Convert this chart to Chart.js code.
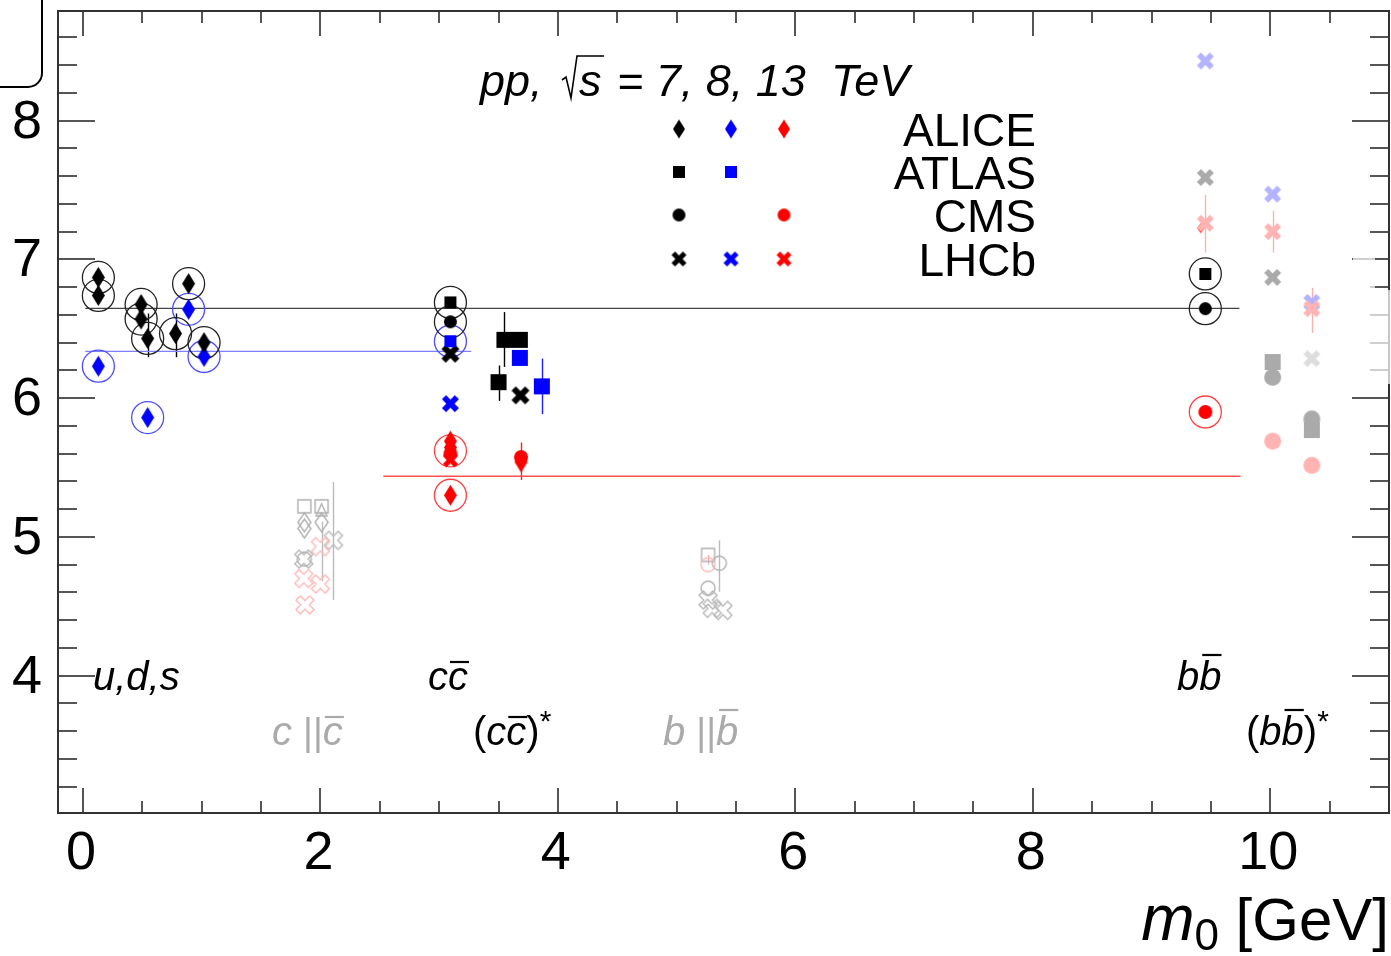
<!DOCTYPE html>
<html><head><meta charset="utf-8">
<script src="https://cdn.jsdelivr.net/npm/chart.js@4.4.0/dist/chart.umd.min.js"></script>
<style>html,body{margin:0;padding:0;background:#fff;overflow:hidden;}#wrap{width:1391px;height:956px;}canvas{display:block;}</style>
</head><body><div id="wrap"><canvas id="c" width="1391" height="956"></canvas></div>
<script>
// ---------------- data ----------------
const xTickLabels = [0, 2, 4, 6, 8, 10];
const yTickLabels = [4, 5, 6, 7, 8];
const xMinorTicks = [0.5,1,1.5,2.5,3,3.5,4.5,5,5.5,6.5,7,7.5,8.5,9,9.5,10.5];
const yMinorTicks = [3.2,3.4,3.6,3.8,4.2,4.4,4.6,4.8,5.2,5.4,5.6,5.8,6.2,6.4,6.6,6.8,7.2,7.4,7.6,7.8,8.2,8.4,8.6];

// ALICE (diamonds)
const alice7  = [[0.13,6.87],[0.13,6.74],[0.49,6.675],[0.49,6.57],[0.545,6.43],[0.78,6.465],[0.89,6.825],[1.02,6.40]];
const alice8  = [[0.13,6.23],[0.545,5.86],[0.89,6.64],[1.02,6.30]];
const alice13 = [[3.095,5.69],[3.095,5.645],[3.095,5.30],[3.69,5.54]];
const alice13hidden = [[9.415,7.225]];
// ATLAS (squares)
const atlas7      = [[3.095,6.69],[9.453,6.895]];
const atlas7big   = [[3.50,6.115],[3.55,6.42],[3.68,6.42]];
const atlas8      = [[3.095,6.41]];
const atlas8big   = [[3.68,6.29],[3.865,6.085]];
// CMS (circles)
const cms7  = [[3.095,6.55],[9.453,6.645]];
const cms13 = [[3.095,5.60],[3.69,5.575],[9.453,5.90]];
// LHCb (crosses)
const lhcb7  = [[3.095,6.32],[3.685,6.02]];
const lhcb8  = [[3.095,5.96]];
const lhcb13 = [[3.095,5.555]];
// faded b-bbar points
const fadeBlueX  = [[9.453,8.43],[10.02,7.47],[10.35,6.69]];
const fadeGrayX  = [[9.453,7.59],[10.02,6.87]];
const fadeLGrayX = [[10.35,6.285]];
const fadePinkX  = [[9.453,7.26],[10.02,7.20],[10.35,6.645]];
const fadeGraySq = [[10.02,6.26],[10.35,5.77]];
const fadeGrayCi = [[10.02,6.15],[10.35,5.85]];
const fadePinkCi = [[10.02,5.69],[10.35,5.515]];
// open (c||cbar, b||bbar) points
const openGraySq  = [[1.865,5.22],[2.01,5.22],[5.265,4.87]];
const openGrayTri = [[2.01,5.195]];
const openGrayDi  = [[1.865,5.105],[1.865,5.06],[2.01,5.105]];
const openGrayX   = [[2.11,4.975],[1.86,4.84],[5.265,4.545],[5.30,4.485],[5.39,4.47]];
const openPinkX   = [[2.0,4.93],[1.86,4.70],[2.0,4.66],[1.87,4.51]];
const openGrayCi  = [[1.865,4.84],[5.36,4.81],[5.265,4.63]];
const openPinkCi  = [[5.265,4.80]];
// highlighted (circled) points
const ringBlack = [[0.13,6.87],[0.13,6.74],[0.49,6.675],[0.49,6.57],[0.545,6.43],[0.78,6.465],[0.89,6.825],[1.02,6.40],[3.095,6.69],[3.095,6.55],[9.453,6.895],[9.453,6.645]];
const ringBlue  = [[0.13,6.23],[0.545,5.86],[0.89,6.64],[1.02,6.30],[3.095,6.41]];
const ringRed   = [[3.095,5.62],[3.095,5.30],[9.453,5.90]];
// error bars [x, low, high]
const errBlack = [[0.545,6.295,6.61],[0.78,6.295,6.61],[3.55,6.225,6.62],[3.50,5.98,6.235]];
const errBlue  = [[3.865,5.885,6.285]];
const errRed   = [[3.69,5.41,5.68]];
const errGray  = [[2.11,4.545,5.395],[2.01,4.68,5.11],[5.36,4.605,4.975]];
const errPink  = [[9.453,7.05,7.465],[10.02,7.05,7.35],[10.35,6.47,6.795],[5.265,4.80,4.87]];
// average lines [x0, x1, y]
const avgBlack = [0.02, 9.74, 6.647];
const avgBlue  = [0.02, 3.27, 6.337];
const avgRed   = [2.53, 9.75, 5.437];

// ---------------- marker images ----------------
function marker(shape, color, w, h, open, lw) {
  const pad = 3, c = document.createElement('canvas');
  c.width = Math.ceil(w + 2*pad); c.height = Math.ceil(h + 2*pad);
  const g = c.getContext('2d');
  g.translate(c.width/2, c.height/2);
  g.beginPath();
  if (shape === 'diamond') { g.moveTo(0,-h/2); g.lineTo(w/2,0); g.lineTo(0,h/2); g.lineTo(-w/2,0); g.closePath(); }
  else if (shape === 'square') { g.rect(-w/2,-h/2,w,h); }
  else if (shape === 'circle') { g.arc(0,0,w/2,0,Math.PI*2); }
  else if (shape === 'triangle') { g.moveTo(0,-h/2); g.lineTo(w/2,h/2); g.lineTo(-w/2,h/2); g.closePath(); }
  else if (shape === 'x') {
    const t = w*0.17, s = w/Math.SQRT2 - t;
    const p = [[t,-s],[t,-t],[s,-t],[s,t],[t,t],[t,s],[-t,s],[-t,t],[-s,t],[-s,-t],[-t,-t],[-t,-s]];
    p.forEach((q,i)=>{ const x=(q[0]-q[1])/Math.SQRT2, y=(q[0]+q[1])/Math.SQRT2; i?g.lineTo(x,y):g.moveTo(x,y); });
    g.closePath();
  }
  if (open) { g.lineWidth = lw || 1.4; g.strokeStyle = color; g.stroke(); }
  else { g.fillStyle = color; g.fill(); }
  return c;
}
const BLACK='#000000', BLUE='#0000ff', RED='#ff0000', LBLUE='#b3b3ff', PINK='#ffb3b3', GRAY='#aaaaaa', LGRAY='#dddddd', OPINK='#ffb8b8';

const pts = a => a.map(p => ({x:p[0], y:p[1]}));
function sc(data, img, order) {
  return {type:'scatter', data: pts(data), pointStyle: img, pointRadius: 8, pointHoverRadius: 8, order: order};
}
function ring(data, color) {
  return {type:'scatter', data: pts(data), pointStyle:'circle', pointRadius:16, pointHoverRadius:16,
    backgroundColor:'rgba(0,0,0,0)', borderColor: color, pointBorderWidth:1.3, borderWidth:1.3, order: 50};
}
function avg(a, color) {
  return {type:'line', data:[{x:a[0],y:a[2]},{x:a[1],y:a[2]}], borderColor: color, borderWidth:1.4,
    pointRadius:0, fill:false, order: 100};
}

const datasets = [
  avg(avgBlack, '#444444'), avg(avgBlue, '#7f7fff'), avg(avgRed, '#ff5050'),
  ring(ringBlack, '#222222'), ring(ringBlue, '#4d4dff'), ring(ringRed, '#ff4040'),
  sc(openGraySq,  marker('square','#b0b0b0',13,13,true), 40),
  sc(openGrayTri, marker('triangle','#b0b0b0',11,12,true), 39),
  sc(openGrayDi,  marker('diamond','#b0b0b0',13,19,true), 38),
  sc(openGrayCi,  marker('circle','#b0b0b0',14,14,true), 37),
  sc(openPinkCi,  marker('circle',OPINK,14,14,true), 36),
  sc(openGrayX,   marker('x','#b8b8b8',18,18,true), 35),
  sc(openPinkX,   marker('x',OPINK,18,18,true), 34),
  sc(fadeGraySq, marker('square',GRAY,16,16,false), 30),
  sc(fadeGrayCi, marker('circle',GRAY,17,17,false), 29),
  sc(fadePinkCi, marker('circle',PINK,17,17,false), 28),
  sc(fadeLGrayX, marker('x',LGRAY,17,17,false), 27),
  sc(fadeGrayX,  marker('x',GRAY,17,17,false), 26),
  sc(fadeBlueX,  marker('x',LBLUE,17,17,false), 25),
  sc(alice13hidden, marker('diamond',RED,7,10,false), 24.5),
  sc(fadePinkX,  marker('x',PINK,17,17,false), 24),
  sc(alice13,   marker('diamond',RED,13,21,false), 20),
  sc(cms13,     marker('circle',RED,14,14,false), 19),
  sc(lhcb13,    marker('x',RED,15,15,false), 18),
  sc(atlas8big, marker('square',BLUE,16,16,false), 17),
  sc(atlas7big, marker('square',BLACK,16,16,false), 16),
  sc(lhcb7,     marker('x',BLACK,18,18,false), 15),
  sc(lhcb8,     marker('x',BLUE,17,17,false), 14),
  sc(alice8,    marker('diamond',BLUE,13,21,false), 13),
  sc(atlas8,    marker('square',BLUE,12,12,false), 12),
  sc(cms7,      marker('circle',BLACK,13,13,false), 11),
  sc(atlas7,    marker('square',BLACK,12,12,false), 10),
  sc(alice7,    marker('diamond',BLACK,13,21,false), 9),
];

// legend markers
const legendRows = ['ALICE','ATLAS','CMS','LHCb'];
const legendMarks = [
  [marker('diamond',BLACK,12,19), marker('diamond',BLUE,12,19), marker('diamond',RED,12,19)],
  [marker('square',BLACK,12,12), marker('square',BLUE,12,12), null],
  [marker('circle',BLACK,13,13), null, marker('circle',RED,13,13)],
  [marker('x',BLACK,15,15), marker('x',BLUE,15,15), marker('x',RED,15,15)],
];

const FONT = '"Liberation Sans", Arial, Helvetica, sans-serif';

function drawSeq(ctx, x, y, parts, align) {
  let total = 0;
  parts.forEach(p => { ctx.font = p.font; p.w = ctx.measureText(p.t).width; total += p.w; });
  let cx = align === 'right' ? x - total : x;
  parts.forEach(p => {
    ctx.font = p.font; ctx.fillStyle = p.color || '#000';
    ctx.fillText(p.t, cx, y + (p.dy || 0));
    if (p.over) {
      ctx.strokeStyle = p.color || '#000'; ctx.lineWidth = 2.2;
      ctx.beginPath(); ctx.moveTo(cx + p.over[0], y - p.over[2]); ctx.lineTo(cx + p.w + p.over[1], y - p.over[2]); ctx.stroke();
    }
    cx += p.w;
  });
}

const framePlugin = {
  id: 'frame',
  beforeDatasetsDraw(chart) {
    const ctx = chart.ctx, xs = chart.scales.x, ys = chart.scales.y;
    const eb = (arr, color) => {
      ctx.strokeStyle = color; ctx.lineWidth = 1.4;
      arr.forEach(e => {
        const px = Math.round(xs.getPixelForValue(e[0])) + 0.5;
        ctx.beginPath(); ctx.moveTo(px, ys.getPixelForValue(e[1])); ctx.lineTo(px, ys.getPixelForValue(e[2])); ctx.stroke();
      });
    };
    ctx.save();
    eb(errGray, '#bbbbbb'); eb(errPink, '#ffb0b0'); eb(errBlack, '#000'); eb(errBlue, '#2020ff'); eb(errRed, '#ff2020');
    ctx.restore();
  },
  afterDraw(chart) {
    const ctx = chart.ctx, a = chart.chartArea, xs = chart.scales.x, ys = chart.scales.y;
    ctx.save();
    ctx.strokeStyle = '#555'; ctx.lineWidth = 2;
    const tick = (x0,y0,x1,y1) => { ctx.beginPath(); ctx.moveTo(x0,y0); ctx.lineTo(x1,y1); ctx.stroke(); };
    xTickLabels.forEach(v => { const p = Math.round(xs.getPixelForValue(v)); tick(p,a.bottom,p,a.bottom-25); tick(p,a.top,p,a.top+25); });
    xMinorTicks.forEach(v => { const p = Math.round(xs.getPixelForValue(v)); tick(p,a.bottom,p,a.bottom-12); tick(p,a.top,p,a.top+12); });
    yTickLabels.forEach(v => { const p = Math.round(ys.getPixelForValue(v)); tick(a.left,p,a.left+37,p); tick(a.right,p,a.right-37,p); });
    yMinorTicks.forEach(v => { const p = Math.round(ys.getPixelForValue(v)); tick(a.left,p,a.left+19,p); tick(a.right,p,a.right-19,p); });
    ctx.strokeStyle = '#333'; ctx.lineWidth = 2;
    ctx.strokeRect(a.left, a.top, a.right - a.left, a.bottom - a.top);
    // faint overlay on the right frame (as in the source image)
    ctx.fillStyle = 'rgba(255,255,255,0.72)';
    ctx.fillRect(a.right - 36, 254, 22, 46);
    ctx.fillRect(a.right - 36, 290, 40, 94);
    // tick labels, placed through the library's scales
    ctx.fillStyle = '#000'; ctx.font = '54px ' + FONT; ctx.textBaseline = 'alphabetic';
    ctx.textAlign = 'center';
    xTickLabels.forEach(v => ctx.fillText(String(v), xs.getPixelForValue(v) - 2, a.bottom + 56));
    ctx.textAlign = 'right'; ctx.textBaseline = 'middle';
    yTickLabels.forEach(v => ctx.fillText(String(v), a.left - 16, ys.getPixelForValue(v) + 2));
    // top-left rounded box fragment
    ctx.strokeStyle = '#000'; ctx.lineWidth = 2;
    ctx.beginPath(); ctx.moveTo(0, 87); ctx.lineTo(28, 87); ctx.arcTo(42, 87, 42, 73, 14); ctx.lineTo(42, 0); ctx.stroke();

    ctx.textBaseline = 'alphabetic'; ctx.textAlign = 'left';
    // header: pp, sqrt(s) = 7, 8, 13 TeV
    const IT = 'italic 45px ' + FONT;
    ctx.fillStyle = '#000';
    ctx.font = IT; ctx.fillText('pp,', 480, 96);
    ctx.strokeStyle = '#000'; ctx.lineWidth = 1.6;
    ctx.beginPath(); ctx.moveTo(562, 80); ctx.lineTo(566, 77); ctx.lineTo(571, 98); ctx.lineTo(577, 56); ctx.lineTo(604, 56); ctx.stroke();
    ctx.fillText('s', 579, 96);
    ctx.fillText('= 7, 8, 13  TeV', 617, 96);

    const rowsY = [129, 172, 215, 259], colsX = [679, 731, 784];
    ctx.font = '46px ' + FONT; ctx.textAlign = 'right'; ctx.fillStyle = '#000';
    legendRows.forEach((r,i) => {
      ctx.fillText(r, 1036, rowsY[i] + 17);
      legendMarks[i].forEach((m,j) => { if (m) ctx.drawImage(m, colsX[j] - m.width/2, rowsY[i] - m.height/2); });
    });
    ctx.textAlign = 'left';
    const IT40 = 'italic 40px ' + FONT, RM40 = '40px ' + FONT;
    drawSeq(ctx, 93, 690, [{t:'u,d,s', font: IT40}]);
    drawSeq(ctx, 428, 690, [{t:'c', font: IT40}, {t:'c', font: IT40, over:[2,1,28]}]);
    drawSeq(ctx, 1177, 690, [{t:'b', font: IT40}, {t:'b', font: IT40, over:[3,0,35]}]);
    drawSeq(ctx, 272, 745, [{t:'c ', font: IT40, color:'#aaaaaa'}, {t:'||', font: '300 38px ' + FONT, color:'#aaaaaa'}, {t:'c', font: IT40, color:'#aaaaaa', over:[2,1,28]}]);
    drawSeq(ctx, 663, 745, [{t:'b ', font: IT40, color:'#aaaaaa'}, {t:'||', font: '300 38px ' + FONT, color:'#aaaaaa'}, {t:'b', font: IT40, color:'#aaaaaa', over:[3,0,35]}]);
    drawSeq(ctx, 473, 745, [{t:'(', font: RM40}, {t:'c', font: IT40}, {t:'c', font: IT40, over:[2,1,28]}, {t:')', font: RM40}, {t:'*', font: '30px ' + FONT, dy:-14}]);
    drawSeq(ctx, 1246, 745, [{t:'(', font: RM40}, {t:'b', font: IT40}, {t:'b', font: IT40, over:[3,0,35]}, {t:')', font: RM40}, {t:'*', font: '30px ' + FONT, dy:-14}]);
    drawSeq(ctx, 1389, 940, [
      {t:'m', font: 'italic 64px ' + FONT},
      {t:'0', font: '44px ' + FONT, dy: 10},
      {t:' [GeV]', font: '60px ' + FONT}
    ], 'right');
    ctx.restore();
  }
};

const noPad = s => { s.paddingLeft = 0; s.paddingRight = 0; s.paddingTop = 0; s.paddingBottom = 0; };

new Chart(document.getElementById('c'), {
  type: 'scatter',
  data: { datasets },
  options: {
    responsive: false, animation: false, devicePixelRatio: 1,
    layout: { autoPadding: false, padding: { left: 0, right: 2, top: 11, bottom: 0 } },
    plugins: { legend: { display: false }, tooltip: { enabled: false } },
    scales: {
      x: {
        type: 'linear', min: -0.21, max: 11.0,
        afterFit: s => { s.height = 143; noPad(s); },
        afterBuildTicks: s => { s.ticks = xTickLabels.map(v => ({value: v})); },
        grid: { display: false, drawTicks: false }, border: { display: false },
        ticks: { display: false }
      },
      y: {
        type: 'linear', min: 3.01, max: 8.79,
        afterFit: s => { s.width = 58; noPad(s); },
        afterBuildTicks: s => { s.ticks = yTickLabels.map(v => ({value: v})); },
        grid: { display: false, drawTicks: false }, border: { display: false },
        ticks: { display: false }
      }
    }
  },
  plugins: [framePlugin]
});
</script>
</body></html>
